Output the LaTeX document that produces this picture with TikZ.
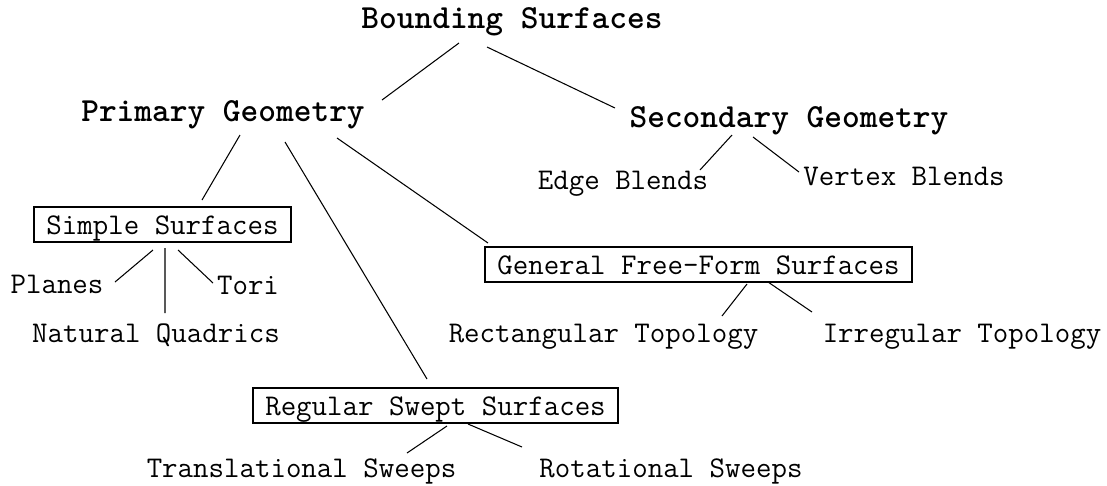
\documentclass[tikz,border=0pt]{standalone}
\usepackage{fontspec}
\usetikzlibrary{calc}
\definecolor{inkMain}{HTML}{000000}

\begin{document}
\begin{tikzpicture}[
    x=0.02cm, y=-0.02cm,
    geom/.style={anchor=base, inner sep=0pt, text=inkMain,
                 font=\ttfamily\bfseries\fontsize{19.2}{22}\selectfont},
    leaf/.style={anchor=base, inner sep=0pt, text=inkMain,
                 font=\ttfamily\fontsize{17.1}{20}\selectfont},
    surfbox/.style={leaf, draw=inkMain, line width=1.1pt, inner xsep=0.24cm,
                    inner ysep=0.08cm, text height=0.46cm, text depth=0.08cm},
    link/.style={draw=inkMain, line width=0.6pt},
]
    \useasboundingbox (0,0) rectangle (1107,485);

    \node[geom] (bound) at (512,28) {Bounding Surfaces};
    \node[geom] (prim) at (223,121) {Primary Geometry};
    \node[geom] (sec) at (789,127) {Secondary Geometry};

    \node[leaf] (edge) at (623,189) {Edge Blends};
    \node[leaf] (vert) at (904,185) {Vertex Blends};

    \node[surfbox] (simple) at (162.5,234) {Simple Surfaces};
    \node[leaf] (planes) at (57,293) {Planes};
    \node[leaf] (tori) at (248,294) {Tori};
    \node[leaf] (natural) at (156,342) {Natural Quadrics};

    \node[surfbox] (general) at (698.5,274) {General Free-Form Surfaces};
    \node[leaf] (rect) at (603.5,342) {Rectangular Topology};
    \node[leaf] (irreg) at (962,342) {Irregular Topology};

    \node[surfbox] (regular) at (435.5,415) {Regular Swept Surfaces};
    \node[leaf] (trans) at (301.5,477) {Translational Sweeps};
    \node[leaf] (rot) at (671,477) {Rotational Sweeps};

    \draw[link] ($(bound.base)+(-53,15)$) -- ($(prim.base)+(159,-21)$);
    \draw[link] ($(bound.base)+(-25,19)$) -- ($(sec.base)+(-174,-19)$);
    \draw[link] ($(sec.base)+(-57,8)$) -- ($(edge.base)+(77,-19)$);
    \draw[link] ($(sec.base)+(-36,10)$) -- ($(vert.base)+(-105,-13)$);

    \draw[link] ($(prim.base)+(17,14)$) -- ($(simple.base)+(39.5,-34)$);
    \draw[link] ($(prim.base)+(62,21)$) -- ($(regular.base)+(-8.5,-36)$);
    \draw[link] ($(prim.base)+(114,17)$) -- ($(general.base)+(-210.5,-31)$);

    \draw[link] ($(simple.base)+(-9.5,16)$) -- ($(planes.base)+(58,-11)$);
    \draw[link] ($(simple.base)+(2.5,14)$) -- ($(natural.base)+(9,-29)$);
    \draw[link] ($(simple.base)+(15.5,16)$) -- ($(tori.base)+(-35,-11)$);

    \draw[link] ($(general.base)+(48.5,10)$) -- ($(rect.base)+(118.5,-26)$);
    \draw[link] ($(general.base)+(69.5,8)$) -- ($(irreg.base)+(-150,-30)$);

    \draw[link] ($(regular.base)+(11.5,11)$) -- ($(trans.base)+(105.5,-24)$);
    \draw[link] ($(regular.base)+(32.5,9)$) -- ($(rot.base)+(-149,-30)$);
\end{tikzpicture}
\end{document}
